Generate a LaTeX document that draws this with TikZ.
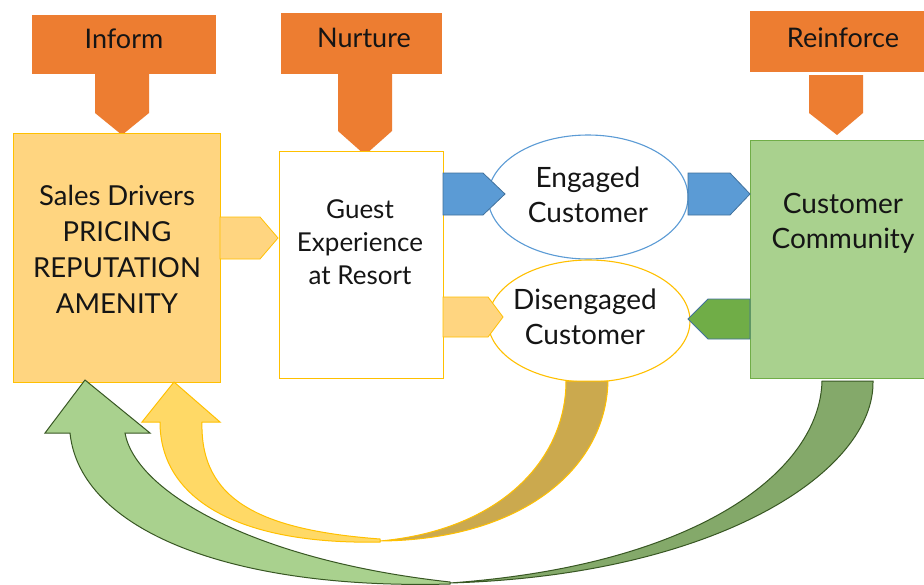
\documentclass[tikz,border=0pt]{standalone}
\usepackage{fontspec}
\setmainfont{Lato}
\usetikzlibrary{shapes.geometric}
\definecolor{orng}{HTML}{ED7D31}
\definecolor{lorng}{HTML}{FFD580}
\definecolor{gold}{HTML}{FFC000}
\definecolor{blu}{HTML}{5B9BD5}
\definecolor{bluline}{HTML}{41719C}
\definecolor{lgrn}{HTML}{A9D18E}
\definecolor{grn}{HTML}{70AD47}
\definecolor{dgrn}{HTML}{385723}
\definecolor{mgrn}{HTML}{84A96A}
\definecolor{lyel}{HTML}{FFD966}
\definecolor{dyel}{HTML}{CBA94E}
\definecolor{ink}{HTML}{151515}
\begin{document}
\begin{tikzpicture}[x=1pt,y=-1pt,
  txt/.style={text=ink,align=center,font=\fontsize{28}{35}\selectfont},
  txtsales/.style={text=ink,align=center,font=\fontsize{27.5}{36}\selectfont},
  txtsm/.style={text=ink,align=center,font=\fontsize{26}{33}\selectfont},
  txtco/.style={text=ink,align=center,font=\fontsize{27}{33}\selectfont},
  boxsh/.style={anchor=north west,inner sep=0pt,line width=1.4pt},
  callout/.style={fill=orng,draw=none},
  ylwblk/.style={fill=lorng,draw=gold,line width=0.8pt},
  blublk/.style={fill=blu,draw=bluline,line width=0.8pt},
  grnblk/.style={fill=grn,draw=bluline,line width=0.8pt},
  ellsh/.style={ellipse,fill=white,inner sep=0pt,line width=1.1pt}
]
\clip (0,0) rectangle (924,584);
\fill[white] (0,0) rectangle (924,584);

% ---- orange callouts ----
\fill[callout] (32,15) rectangle (216,74);
\fill[callout] (95,74) -- (149,74) -- (149,113) -- (122,135) -- (95,113) -- cycle;
\node[txtco] (inform) at (124,39) {Inform};

\fill[callout] (281,13) rectangle (442,74);
\fill[callout] (338,74) -- (392,74) -- (392,131) -- (365,155) -- (338,131) -- cycle;
\node[txtco] (nurture) at (364,38) {Nurture};

\fill[callout] (750,11) rectangle (930,72);
\fill[callout] (809,75) -- (863,75) -- (863,113) -- (837,135) -- (809,113) -- cycle;
\node[txtco] (reinforce) at (843,38) {Reinforce};

% ---- boxes ----
\node[boxsh,draw=gold,fill=lorng,minimum width=207pt,minimum height=249pt] (sales) at (13,133) {};
\node[txtsales] (salestxt) at (117,249) {Sales Drivers\\PRICING\\REPUTATION\\AMENITY};

\node[boxsh,draw=gold,fill=white,minimum width=164pt,minimum height=227pt] (guest) at (279,151) {};
\node[txtsm] (guesttxt) at (360,242) {Guest\\Experience\\at Resort};

\node[boxsh,draw=grn,fill=lgrn,minimum width=190pt,minimum height=238pt] (comm) at (750,140) {};
\node[txt] (commtxt) at (843,223) {Customer\\Community};

% ---- ellipses ----
\node[ellsh,draw=blu,minimum width=200pt,minimum height=124pt] (eng) at (588,197) {};
\node[txt] (engtxt) at (588,195) {Engaged\\Customer};
\node[ellsh,draw=gold,minimum width=202pt,minimum height=122pt] (dis) at (589,321) {};
\node[txt] (distxt) at (585,317) {Disengaged\\Customer};

% ---- block arrows ----
\draw[ylwblk] (220,217) -- (260,217) -- (278,238) -- (260,259) -- (220,259) -- cycle;
\draw[blublk] (443,173) -- (483,173) -- (505,194) -- (483,215) -- (443,215) -- cycle;
\draw[blublk] (688,173) -- (730,173) -- (750,194) -- (730,215) -- (688,215) -- cycle;
\draw[ylwblk] (443,297) -- (488,297) -- (503,317) -- (488,337) -- (443,337) -- cycle;
\draw[grnblk] (750,299) -- (708,299) -- (688,319) -- (708,339) -- (750,339) -- cycle;

% ---- green curved arrow ----
\draw[fill=mgrn,draw=dgrn,line width=1pt]
  (822,381) -- (873,381) .. controls (875,470) and (720,575) .. (450,583)
  .. controls (700,565) and (820,470) .. (822,381) -- cycle;
\draw[fill=lgrn,draw=dgrn,line width=1pt]
  (450,584) .. controls (230,590) and (80,530) .. (70,433)
  -- (45,433) -- (85,380) -- (150,433) -- (125,433)
  .. controls (135,490) and (250,560) .. (450,582) -- cycle;

% ---- yellow curved arrow ----
\draw[fill=dyel,draw=gold,line width=1pt]
  (566,381) -- (608,381) .. controls (606,470) and (520,540) .. (380,541)
  .. controls (500,530) and (566,460) .. (566,381) -- cycle;
\draw[fill=lyel,draw=gold,line width=1pt]
  (380,542) .. controls (240,545) and (160,500) .. (160,422)
  -- (142,422) -- (174,382) -- (220,422) -- (202,422)
  .. controls (200,500) and (260,530) .. (380,539) -- cycle;
\end{tikzpicture}
\end{document}
